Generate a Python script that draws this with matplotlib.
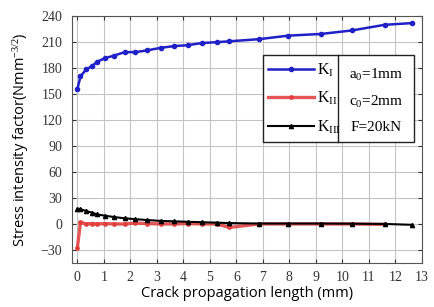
import matplotlib
matplotlib.use("Agg")
import matplotlib.pyplot as plt
from matplotlib.patches import Rectangle
from matplotlib.lines import Line2D

# 균열 진전 길이 (mm)
x = [0.0, 0.12, 0.33, 0.56, 0.75, 1.04, 1.38, 1.79, 2.19, 2.63, 3.15, 3.66,
     4.16, 4.7, 5.26, 5.74, 6.87, 7.95, 9.2, 10.36, 11.59, 12.63]
k1 = [155, 170, 178, 182, 187, 191, 194, 198, 198, 200, 203, 205,
      206, 208.5, 209.5, 210.5, 213, 217, 219, 223, 229.5, 231.5]
k2 = [-28, 2, 0, 0.5, 0, 0.5, 0, 0, 1, 0.5, 0, 0,
      0.5, 0, 0, -4, 0, 0, 0, 0, -0.5]
k3 = [17, 17, 15, 13, 11, 9.5, 8, 6.5, 5.5, 4.5, 3.5, 3,
      2.5, 2, 1.5, 1, 0.5, 0.5, 0.5, 0.3, 0, -1]
xticks = list(range(0, 14))
yticks = list(range(-30, 241, 30))
notes = ["a$_0$=1mm", "c$_0$=2mm", "F=20kN"]

SERIF = "Liberation Serif"
SANS = "Open Sans"
plt.rcParams["font.family"] = SERIF
plt.rcParams["mathtext.fontset"] = "custom"
plt.rcParams["mathtext.rm"] = SERIF
plt.rcParams["mathtext.it"] = SERIF + ":italic"

fig = plt.figure(figsize=(4.35, 3.07), dpi=100)
ax = fig.add_axes([72/435, 1 - 263/307, 350/435, 247.3/307])

ax.plot(x[:len(k2)], k2, color="#e23a3a", lw=2.4, alpha=0.85, marker="o",
        ms=2.5, zorder=3, label="K$_{\\mathrm{II}}$")
ax.plot(x, k3, color="black", lw=1.5, marker="^", ms=3, zorder=4,
        label="K$_{\\mathrm{III}}$")
ax.plot(x, k1, color="#2020c8", lw=1.8, marker="o", ms=3, zorder=5,
        label="K$_{\\mathrm{I}}$")

ax.set_xlim(-0.2, 13)
ax.set_ylim(-45, 240)
ax.set_xticks(xticks)
ax.set_yticks(yticks)
ax.grid(True, color="#c4c4c4", lw=0.8)
ax.tick_params(direction="in", length=3, top=True, right=True,
               labelsize=10, colors="#333333")
ax.tick_params(axis="y", pad=7)
ax.tick_params(axis="x", pad=6)
for s in ax.spines.values():
    s.set_color("#555555")
    s.set_linewidth(0.8)

ax.set_xlabel("Crack propagation length (mm)", family=SANS, fontsize=10.5,
              labelpad=1)
ax.set_ylabel("Stress intensity factor(Nmm$^{-3/2}$)", family=SANS,
              fontsize=10.5, labelpad=7)

# 범례 박스 (왼쪽: 곡선, 오른쪽: 조건)
x0, x1, xd = 0.546, 0.977, 0.759
y0, y1 = 0.489, 0.841
ax.add_patch(Rectangle((x0, y0), x1 - x0, y1 - y0, transform=ax.transAxes,
                       facecolor="white", edgecolor="#222222", lw=1.0,
                       zorder=6))
ax.add_line(Line2D([xd, xd], [y0, y1], transform=ax.transAxes,
                   color="#222222", lw=1.0, zorder=7))
h, l = ax.get_legend_handles_labels()
order = [2, 0, 1]
leg = ax.legend([h[i] for i in order], [l[i] for i in order],
                loc="center left", bbox_to_anchor=(x0 - 0.004, (y0 + y1) / 2),
                frameon=False, handlelength=2.9, handletextpad=0.15,
                labelspacing=0.7, borderaxespad=0,
                prop={"family": SERIF, "size": 11.5})
leg.set_zorder(8)
for i, t in enumerate(notes):
    ax.text((xd + x1) / 2, 0.760 - i * 0.107, t, transform=ax.transAxes,
            ha="center", va="center", family=SERIF, fontsize=11, zorder=8)

fig.savefig("out.png", dpi=100)
